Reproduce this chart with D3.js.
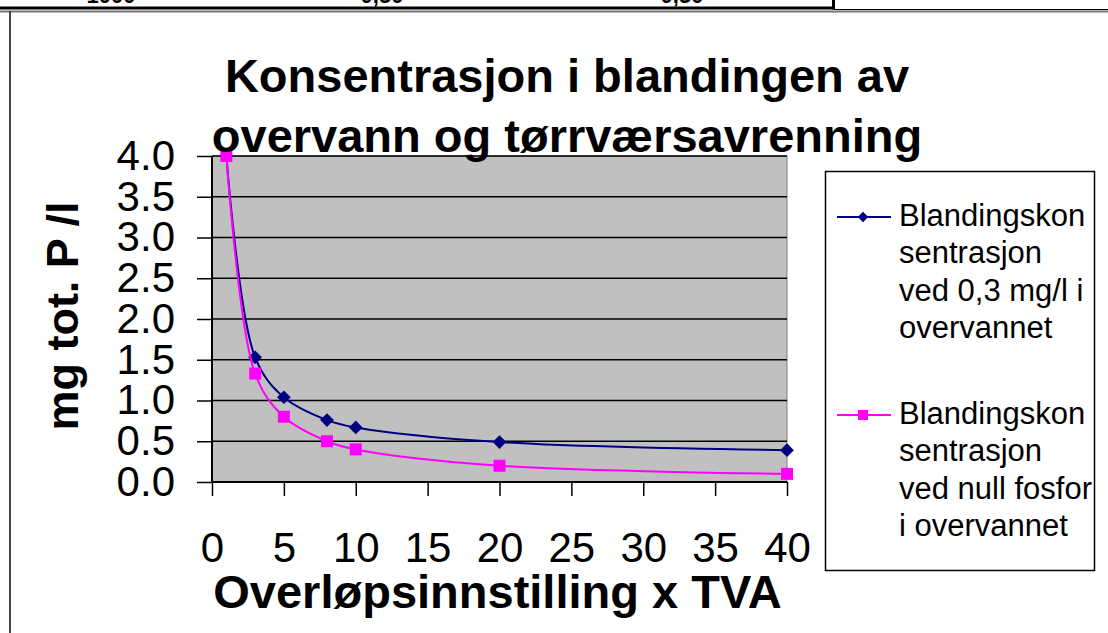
<!DOCTYPE html>
<html>
<head>
<meta charset="utf-8">
<script src="https://cdn.jsdelivr.net/npm/d3@7"></script>
<style>
  html, body { margin: 0; padding: 0; background: #fff; }
  svg { display: block; }
  text { font-family: "Liberation Sans", Arial, sans-serif; }
</style>
</head>
<body>
<svg id="chart" width="1108" height="633"></svg>
<script>
// ---- data ----
const xValues = [1, 3, 5, 8, 10, 20, 40];
const seriesNavy = [4.0, 1.53, 1.04, 0.76, 0.67, 0.49, 0.39];
const seriesPink = [4.0, 1.33, 0.80, 0.50, 0.40, 0.20, 0.10];
const xTicks = [0, 5, 10, 15, 20, 25, 30, 35, 40];
const yTicks = [0, 0.5, 1.0, 1.5, 2.0, 2.5, 3.0, 3.5, 4.0];
const titleLines = ["Konsentrasjon i blandingen av", "overvann og tørrværsavrenning"];
const xTitle = "Overløpsinnstilling x TVA";
const yTitle = "mg tot. P /l";
const legendNavy = ["Blandingskon", "sentrasjon", "ved 0,3 mg/l i", "overvannet"];
const legendPink = ["Blandingskon", "sentrasjon", "ved null fosfor", "i overvannet"];
const topRowLabels = ["1000", "0,50", "0,50"];

// ---- layout ----
const svg = d3.select("#chart");
const plot = { left: 212, right: 787, top: 156, bottom: 482 };
const x = d3.scaleLinear().domain([0, 40]).range([plot.left, plot.right]);
const y = d3.scaleLinear().domain([0, 4]).range([plot.bottom, plot.top]);

// top strip (cut-off table above the chart)
svg.append("line").attr("x1", 0).attr("x2", 834).attr("y1", 8).attr("y2", 8)
  .attr("stroke", "#000").attr("stroke-width", 3);
svg.append("line").attr("x1", 833.5).attr("x2", 833.5).attr("y1", 0).attr("y2", 9.5)
  .attr("stroke", "#000").attr("stroke-width", 3);
svg.append("line").attr("x1", 834).attr("x2", 1108).attr("y1", 9.5).attr("y2", 9.5)
  .attr("stroke", "#000").attr("stroke-width", 1);
const topX = [111, 382, 682];
svg.selectAll("text.top").data(topRowLabels).enter().append("text")
  .attr("class", "top").attr("x", (d, i) => topX[i]).attr("y", 3)
  .attr("text-anchor", "middle").attr("font-size", 22).attr("font-weight", "bold")
  .text(d => d);

// chart frame
svg.append("line").attr("x1", 0).attr("x2", 1108).attr("y1", 11.5).attr("y2", 11.5)
  .attr("stroke", "#777").attr("stroke-width", 2);
svg.append("line").attr("x1", 10).attr("x2", 10).attr("y1", 11).attr("y2", 633)
  .attr("stroke", "#444").attr("stroke-width", 2);

// plot area
svg.append("rect").attr("x", plot.left).attr("y", plot.top)
  .attr("width", plot.right - plot.left).attr("height", plot.bottom - plot.top)
  .attr("fill", "#c0c0c0").attr("stroke", "#808080").attr("stroke-width", 1);

// grid lines
svg.append("g").selectAll("line").data(yTicks.filter(d => d > 0)).enter().append("line")
  .attr("x1", plot.left).attr("x2", plot.right)
  .attr("y1", d => y(d)).attr("y2", d => y(d))
  .attr("stroke", "#000").attr("stroke-width", 1.5);

// axes
const yAxis = d3.axisLeft(y).tickValues(yTicks).tickFormat(d3.format(".1f"))
  .tickSize(15).tickPadding(22);
const gy = svg.append("g").attr("transform", `translate(${plot.left},0)`).call(yAxis);
gy.select(".domain").attr("stroke", "#000").attr("stroke-width", 2).attr("d", `M0,${plot.top}V${plot.bottom}`);
gy.selectAll(".tick line").attr("stroke", "#000").attr("stroke-width", 1.5);
gy.selectAll(".tick text").attr("font-size", 42).attr("fill", "#000")
  .attr("font-family", "'Liberation Sans', Arial, sans-serif");

const xAxis = d3.axisBottom(x).tickValues(xTicks).tickFormat(d3.format("d"))
  .tickSize(14).tickPadding(36);
const gx = svg.append("g").attr("transform", `translate(0,${plot.bottom})`).call(xAxis);
gx.select(".domain").attr("stroke", "#000").attr("stroke-width", 2).attr("d", `M${plot.left},0H${plot.right}`);
gx.selectAll(".tick line").attr("stroke", "#000").attr("stroke-width", 1.5);
gx.selectAll(".tick text").attr("font-size", 42).attr("fill", "#000")
  .attr("font-family", "'Liberation Sans', Arial, sans-serif");

// series
const line = d3.line().x(d => x(d[0])).y(d => y(d[1])).curve(d3.curveCatmullRom.alpha(0.5));
const navyPts = xValues.map((v, i) => [v, seriesNavy[i]]);
const pinkPts = xValues.map((v, i) => [v, seriesPink[i]]);

svg.append("path").datum(navyPts).attr("d", line).attr("fill", "none")
  .attr("stroke", "#000080").attr("stroke-width", 2);
svg.append("g").selectAll("path").data(navyPts).enter().append("path")
  .attr("d", d3.symbol().type(d3.symbolDiamond2).size(120))
  .attr("transform", d => `translate(${x(d[0])},${y(d[1])})`)
  .attr("fill", "#000080");

svg.append("path").datum(pinkPts).attr("d", line).attr("fill", "none")
  .attr("stroke", "#ff00ff").attr("stroke-width", 2);
svg.append("g").selectAll("rect").data(pinkPts).enter().append("rect")
  .attr("x", d => x(d[0]) - 6).attr("y", d => y(d[1]) - 6)
  .attr("width", 12).attr("height", 12).attr("fill", "#ff00ff");

// titles
svg.append("g").selectAll("text").data(titleLines).enter().append("text")
  .attr("x", 567).attr("y", (d, i) => 92 + i * 60)
  .attr("text-anchor", "middle").attr("font-size", 47).attr("font-weight", "bold")
  .text(d => d);

svg.append("text").attr("x", (plot.left + plot.right) / 2 - 2).attr("y", 608)
  .attr("text-anchor", "middle").attr("font-size", 47).attr("font-weight", "bold")
  .text(xTitle);

svg.append("text").attr("transform", "translate(78,316) rotate(-90)")
  .attr("text-anchor", "middle").attr("font-size", 45).attr("font-weight", "bold")
  .text(yTitle);

// legend
const lg = svg.append("g");
lg.append("rect").attr("x", 825.5).attr("y", 171.5).attr("width", 269).attr("height", 399)
  .attr("fill", "#fff").attr("stroke", "#000").attr("stroke-width", 1.5);

function legendEntry(lineY, textY, color, marker, labels) {
  lg.append("line").attr("x1", 837).attr("x2", 891).attr("y1", lineY).attr("y2", lineY)
    .attr("stroke", color).attr("stroke-width", 2);
  if (marker === "diamond") {
    lg.append("path").attr("d", d3.symbol().type(d3.symbolDiamond2).size(70))
      .attr("transform", `translate(863,${lineY})`).attr("fill", color);
  } else {
    lg.append("rect").attr("x", 858).attr("y", lineY - 5).attr("width", 10).attr("height", 10)
      .attr("fill", color);
  }
  lg.append("g").selectAll("text").data(labels).enter().append("text")
    .attr("x", 899).attr("y", (d, i) => textY + i * 37.3)
    .attr("font-size", 31).attr("fill", "#000").text(d => d);
}
legendEntry(217, 226, "#000080", "diamond", legendNavy);
legendEntry(415, 424, "#ff00ff", "square", legendPink);
</script>
</body>
</html>
